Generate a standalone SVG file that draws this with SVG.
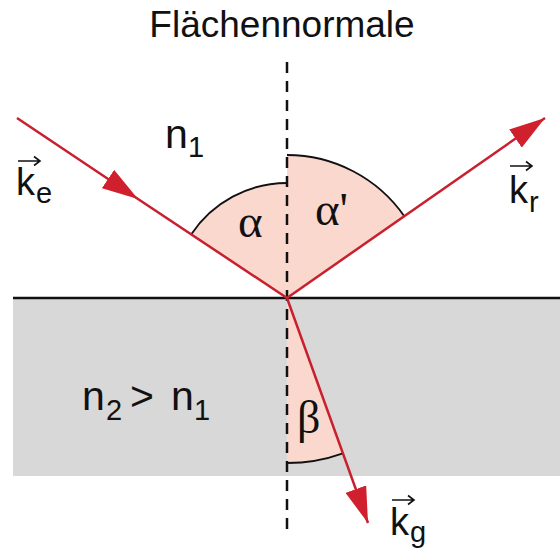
<svg xmlns="http://www.w3.org/2000/svg" width="560" height="554" viewBox="0 0 560 554">
<style>
.ray{fill:none;stroke:#c8202e;stroke-width:2.5}
.sector{fill:#fbd8ce;stroke:none}
.arc{fill:none;stroke:#111;stroke-width:1.8}
.lbl{font-family:"Liberation Sans",Arial,sans-serif;fill:#111}
.gr{font-family:"Liberation Serif","Times New Roman",serif;fill:#111}
.vec{fill:none;stroke:#111;stroke-width:1.6}
</style>
<defs>
<marker id="ah" viewBox="0 0 36 22" refX="36" refY="11" markerWidth="36" markerHeight="22" markerUnits="userSpaceOnUse" orient="auto">
<path d="M0,0 L36,11 L0,22 Z" fill="#d0202e"/>
</marker>
</defs>
<rect width="560" height="554" fill="#fff"/>
<g id="medium2">
<rect x="13" y="298" width="547" height="178" fill="#d8d8d8"/>
</g>
<g id="angles">
<path class="sector" d="M287,298 L191.3,234.2 A115,115 0 0 1 287,183 Z"/>
<path class="sector" d="M287,298 L287,155 A143,143 0 0 1 404.3,216.2 Z"/>
<path class="sector" d="M287,298 L342.9,453.3 A165,165 0 0 1 287,463 Z"/>
<path class="arc" d="M191.3,234.2 A115,115 0 0 1 287,183"/>
<path class="arc" d="M287,155 A143,143 0 0 1 404.3,216.2"/>
<path class="arc" d="M342.9,453.3 A165,165 0 0 1 287,463"/>
</g>
<g id="surface">
<line x1="13" y1="298" x2="560" y2="298" stroke="#111" stroke-width="2.5"/>
</g>
<g id="normal">
<line x1="287" y1="62" x2="287" y2="536" stroke="#111" stroke-width="2.5" stroke-dasharray="11 8"/>
</g>
<g id="connectors">
<path class="ray" d="M17,118 L138,199 L287,298" marker-mid="url(#ah)"/>
<path class="ray" d="M287,298 L545,118" marker-end="url(#ah)"/>
<path class="ray" d="M287,298 L368,523" marker-end="url(#ah)"/>
</g>
<g id="labels">
<text class="lbl" x="282" y="37" font-size="37" text-anchor="middle">Flächennormale</text>
<text class="lbl" x="165" y="148" font-size="41">n</text>
<text class="lbl" x="188" y="157" font-size="29">1</text>
<text class="lbl" x="82" y="410" font-size="41">n</text>
<text class="lbl" x="106" y="420" font-size="29">2</text>
<text class="lbl" x="130" y="410" font-size="41">&gt;</text>
<text class="lbl" x="171" y="410" font-size="41">n</text>
<text class="lbl" x="194" y="420" font-size="29">1</text>
<text class="gr" x="238" y="237" font-size="47">α</text>
<text class="gr" x="315" y="225" font-size="47">α'</text>
<text class="gr" x="297" y="433" font-size="46">β</text>
</g>
<g id="ke">
<path class="vec" d="M18,161 H40 M34,156.5 L40,161 L34,165.5"/>
<text class="lbl" x="16" y="195" font-size="38">k</text>
<text class="lbl" x="36" y="203" font-size="29">e</text>
</g>
<g id="kr">
<path class="vec" d="M510,166 H532 M526,161.5 L532,166 L526,170.5"/>
<text class="lbl" x="509" y="203" font-size="38">k</text>
<text class="lbl" x="529" y="212" font-size="29">r</text>
</g>
<g id="kg">
<path class="vec" d="M392,500 H414 M408,495.5 L414,500 L408,504.5"/>
<text class="lbl" x="390" y="535" font-size="38">k</text>
<text class="lbl" x="410" y="542" font-size="29">g</text>
</g>
</svg>
